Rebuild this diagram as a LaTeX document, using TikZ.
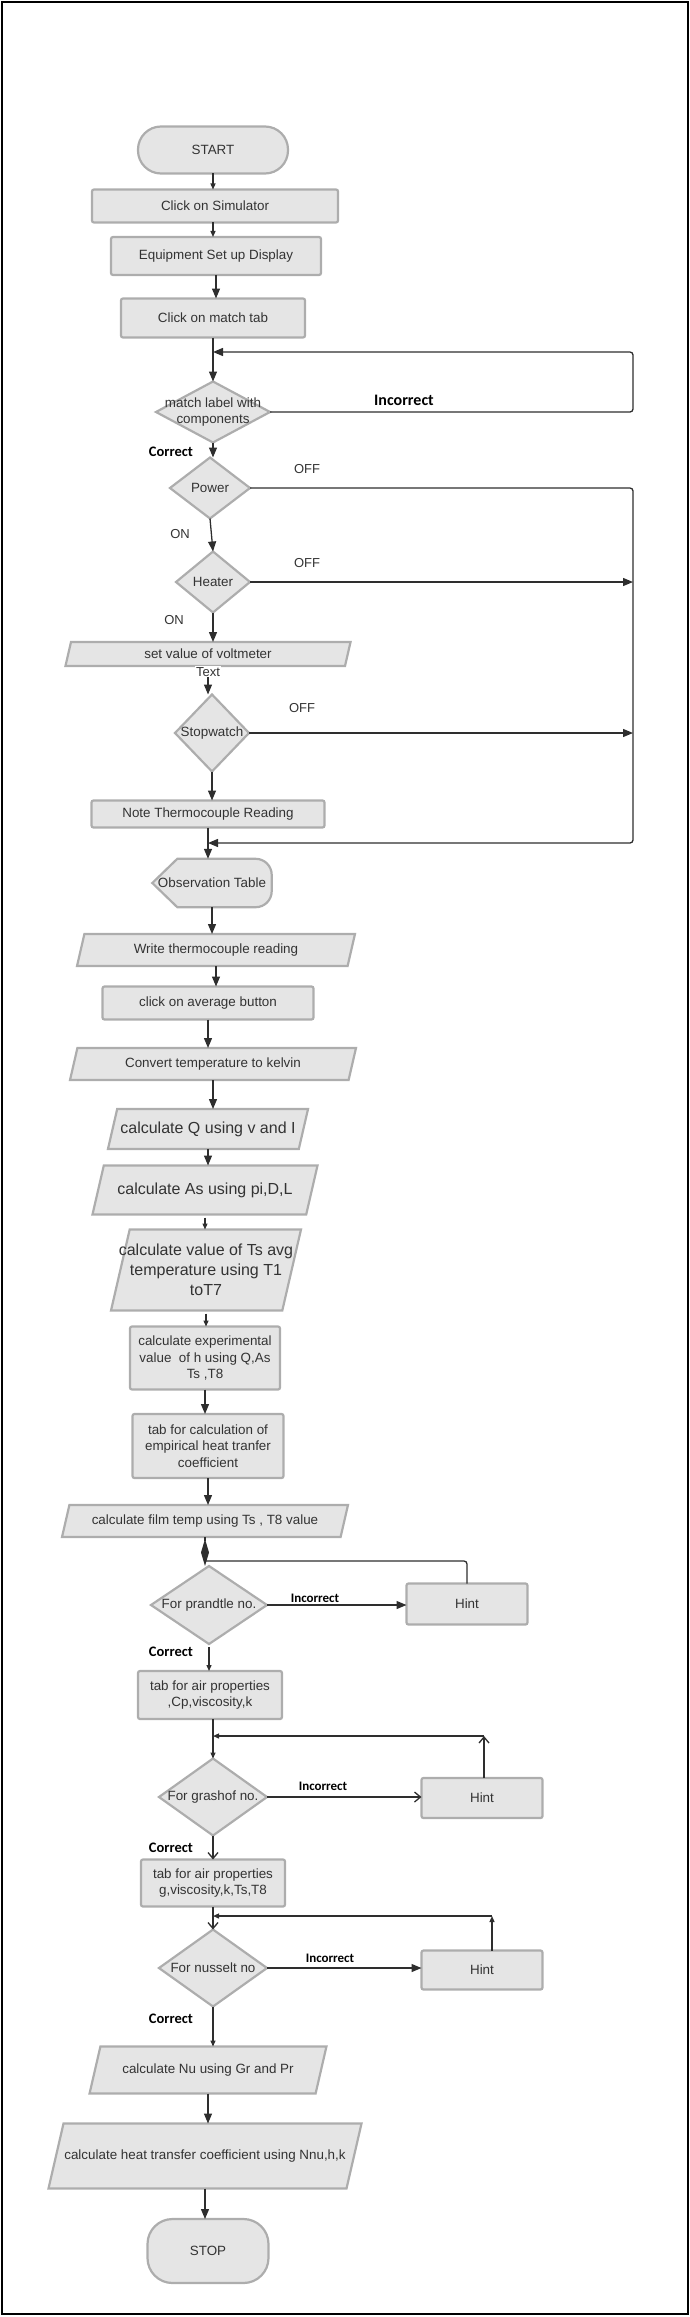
\documentclass[tikz,border=0pt]{standalone}
\usepackage{fontspec}
\setmainfont{Liberation Sans}
\newfontfamily\lblfont{Carlito}
\usetikzlibrary{shapes.geometric,arrows.meta}
\definecolor{boxfill}{HTML}{E5E5E5}
\definecolor{boxline}{HTML}{ADADAD}
\definecolor{inktext}{HTML}{333333}
\definecolor{inkline}{HTML}{2E2E2E}
\tikzset{
  box/.style={draw=boxline,fill=boxfill,line width=2.2pt,text=inktext,outer sep=0pt,
    font=\fontsize{13.4}{16.7}\selectfont,align=center,inner sep=2pt},
  proc/.style={box,rectangle,rounded corners=2pt},
  term/.style={box,rectangle,rounded corners=#1},
  io/.style 2 args={box,trapezium,trapezium left angle=77,trapezium right angle=103,
    minimum width=0pt,minimum height=0pt,inner xsep=#1,inner ysep=#2},
  dec/.style={box,diamond,inner sep=0pt},
  intxt/.style={text=inktext,font=\fontsize{13.4}{16.7}\selectfont,align=center},
  bigtxt/.style={text=inktext,font=\fontsize{16}{20}\selectfont,align=center},
  conn/.style={draw=inkline,line width=1.3pt},
  arr/.style={conn,-{Triangle[length=10pt,width=8pt]}},
  sarr/.style={conn,-{Triangle[length=6pt,width=5pt]}},
  oarr/.style={conn,-{Straight Barb[length=6pt,width=10pt]}},
  darr/.style={conn,-{Diamond[length=27pt,width=8pt]}},
  sidelbl/.style={text=inktext,font=\fontsize{13}{15}\selectfont},
  verdict/.style={text=black,font=\lblfont\bfseries\fontsize{#1}{#1}\selectfont},
}
\begin{document}
\begin{tikzpicture}[x=1pt,y=-1pt]
\useasboundingbox (0,0) rectangle (690,2317);
\draw[line width=2.5pt] (2,2) rectangle (688,2314);

\draw (213,150) node[term=23pt,minimum width=150,minimum height=47] (start) {START};
\draw (215,206) node[proc,minimum width=246,minimum height=33] (sim) {Click on Simulator};
\draw (216,256) node[proc,minimum width=210,minimum height=38] (equip) {Equipment Set up Display};
\draw (213,318) node[proc,minimum width=184,minimum height=39] (matchtab) {Click on match tab};
\draw (213,412) node[dec,minimum width=114,minimum height=61,
  label={[intxt]center:match label with\\components}] (matchlbl) {};
\draw (210,488) node[dec,minimum width=80,minimum height=61,label={[intxt]center:Power}] (power) {};
\draw (213,582) node[dec,minimum width=74,minimum height=61,label={[intxt]center:Heater}] (heater) {};
\draw (208,654) node[io={137pt}{12pt},
  label={[intxt]center:set value of voltmeter}] (setvolt) {};
\draw (212,733) node[dec,minimum width=74,minimum height=77,label={[intxt]center:Stopwatch}] (stopw) {};
\draw (208,814) node[proc,minimum width=233,minimum height=27] (note) {Note Thermocouple Reading};
\draw (212,883) node[minimum width=119,minimum height=48,inner sep=0pt] (obs) {};
\draw[box] (obs.north) [rounded corners=16pt] -- (obs.north east) -- (obs.south east) -- (obs.south)
  [sharp corners] -- ([xshift=25pt]obs.south west) -- (obs.west) -- ([xshift=25pt]obs.north west) -- cycle;
\draw (obs) node[intxt] (obstxt) {Observation Table};
\draw (216,950) node[io={131.6pt}{16pt},
  label={[intxt]center:Write thermocouple reading}] (write) {};
\draw (208,1003) node[proc,minimum width=211,minimum height=33] (avg) {click on average button};
\draw (213,1064) node[io={135.6pt}{16pt},
  label={[intxt]center:Convert temperature to kelvin}] (kelvin) {};
\draw (208,1129) node[io={90.8pt}{20pt},
  label={[bigtxt]center:calculate Q using v and I}] (calcq) {};
\draw (205,1190) node[io={101.2pt}{24.5pt},
  label={[bigtxt]center:calculate As using pi,D,L}] (calcas) {};
\draw (206,1270) node[io={76.3pt}{40.5pt},
  label={[bigtxt]center:calculate value of Ts avg\\temperature using T1\\toT7}] (calcts) {};
\draw (205,1358) node[proc,minimum width=150,minimum height=63] (exph)
  {calculate experimental\\value\ \ of h using Q,As\\Ts ,T8};
\draw (208,1446) node[proc,minimum width=151,minimum height=64] (empir)
  {tab for calculation of\\empirical heat tranfer\\coefficient};
\draw (205,1521) node[io={135.6pt}{16pt},
  label={[intxt]center:calculate film temp using Ts , T8 value}] (film) {};
\draw (209,1605) node[dec,minimum width=116,minimum height=78,
  label={[intxt]center:For prandtle no.}] (prandtl) {};
\draw (467,1604) node[proc,minimum width=121,minimum height=41] (hintP) {Hint};
\draw (210,1695) node[proc,minimum width=144,minimum height=48] (airA)
  {tab for air properties\\,Cp,viscosity,k};
\draw (213,1797) node[dec,minimum width=108,minimum height=77,
  label={[intxt]center:For grashof no.}] (grashof) {};
\draw (482,1798) node[proc,minimum width=121,minimum height=40] (hintG) {Hint};
\draw (213,1883) node[proc,minimum width=144,minimum height=47] (airB)
  {tab for air properties\\g,viscosity,k,Ts,T8};
\draw (213,1968) node[dec,minimum width=108,minimum height=77,
  label={[intxt]center:For nusselt no}] (nusselt) {};
\draw (482,1970) node[proc,minimum width=121,minimum height=39] (hintN) {Hint};
\draw (208,2070) node[io={107.6pt}{23.5pt},
  label={[intxt]center:calculate Nu using Gr and Pr}] (calcnu) {};
\draw (205,2156) node[io={141.5pt}{32.5pt},
  label={[intxt]center:calculate heat transfer coefficient using Nnu,h,k}] (calch) {};
\draw (208,2251) node[term=25pt,minimum width=121,minimum height=64] (stop) {STOP};

\coordinate (loopM) at (633,352);
\coordinate (busR) at (633,843);
\coordinate (loopP) at (467,1561);
\coordinate (loopG) at (484,1736);
\coordinate (loopN) at (492,1916);

\draw[sarr] (start.south) -- (start.south |- sim.north);
\draw[sarr] (start.south |- sim.south) -- (start.south |- equip.north);
\draw[arr] (equip.south) -- (equip.south |- matchtab.north);
\draw[arr] (matchtab.south) -- (matchlbl.north);
\draw[arr,rounded corners=3pt] (matchlbl.east) -| (loopM) -- (loopM -| matchlbl.north);
\draw[arr] (matchlbl.south) -- (matchlbl.south |- power.north);
\draw[arr,rounded corners=3pt] (power.east) -| (busR) -- (busR -| note.south);
\draw[arr] (power.south) -- (heater.north);
\draw[arr] (heater.east) -- (heater.east -| busR);
\draw[arr] (heater.south) -- (heater.south |- setvolt.north);
\draw[arr] (setvolt.south) -- node[sidelbl,pos=0.2,fill=white,inner sep=1pt] (txtlbl) {Text}
  (setvolt.south |- stopw.north);
\draw[arr] (stopw.east) -- (stopw.east -| busR);
\draw[arr] (stopw.south) -- (stopw.south |- note.north);
\draw[arr] (note.south) -- (note.south |- obs.north);
\draw[arr] (obs.south) -- (obs.south |- write.north);
\draw[arr] (write.south) -- (write.south |- avg.north);
\draw[arr] (avg.south) -- (avg.south |- kelvin.north);
\draw[arr] (kelvin.south) -- (kelvin.south |- calcq.north);
\draw[arr] (calcq.south) -- (calcq.south |- calcas.north);
\draw[sarr] ([yshift=-3pt]calcas.south) -- (calcas.south |- calcts.north);
\draw[sarr] ([yshift=-3pt]calcts.south) -- (calcts.south |- exph.north);
\draw[arr] (exph.south) -- (exph.south |- empir.north);
\draw[arr] (empir.south) -- (empir.south |- film.north);
\draw[darr] (film.south) -- (film.south |- prandtl.north);
\draw[conn,rounded corners=3pt] (hintP.north) |- (film.south |- loopP);
\draw[arr] (prandtl.east) -- (prandtl.east -| hintP.west);
\draw[sarr] ([yshift=-3pt]prandtl.south) -- (prandtl.south |- airA.north);
\draw[sarr] (grashof.north |- airA.south) -- (grashof.north);
\draw[oarr] (loopG |- hintG.north) -- (loopG);
\draw[sarr] (loopG) -- (loopG -| grashof.north);
\draw[oarr] (grashof.east) -- (grashof.east -| hintG.west);
\draw[oarr] (grashof.south) -- (grashof.south |- airB.north);
\draw[oarr] (airB.south) -- (airB.south |- nusselt.north);
\draw[sarr] (loopN |- hintN.north) -- (loopN);
\draw[sarr] (loopN) -- (loopN -| nusselt.north);
\draw[arr] (nusselt.east) -- (nusselt.east -| hintN.west);
\draw[sarr] (nusselt.south) -- (nusselt.south |- calcnu.north);
\draw[arr] (calcnu.south) -- (calcnu.south |- calch.north);
\draw[arr] (calch.south) -- (calch.south |- stop.north);

\draw (404,400) node[verdict=16] (incM) {Incorrect};
\draw (171,452) node[verdict=14.5] (corM) {Correct};
\draw (307,469) node[sidelbl] (offP) {OFF};
\draw (180,534) node[sidelbl] (onP) {ON};
\draw (307,563) node[sidelbl] (offH) {OFF};
\draw (174,620) node[sidelbl] (onH) {ON};
\draw (302,708) node[sidelbl] (offS) {OFF};
\draw (315,1598) node[verdict=13] (incP) {Incorrect};
\draw (171,1652) node[verdict=14.5] (corP) {Correct};
\draw (323,1786) node[verdict=13] (incG) {Incorrect};
\draw (171,1848) node[verdict=14.5] (corG) {Correct};
\draw (330,1958) node[verdict=13] (incN) {Incorrect};
\draw (171,2019) node[verdict=14.5] (corN) {Correct};
\end{tikzpicture}
\end{document}
